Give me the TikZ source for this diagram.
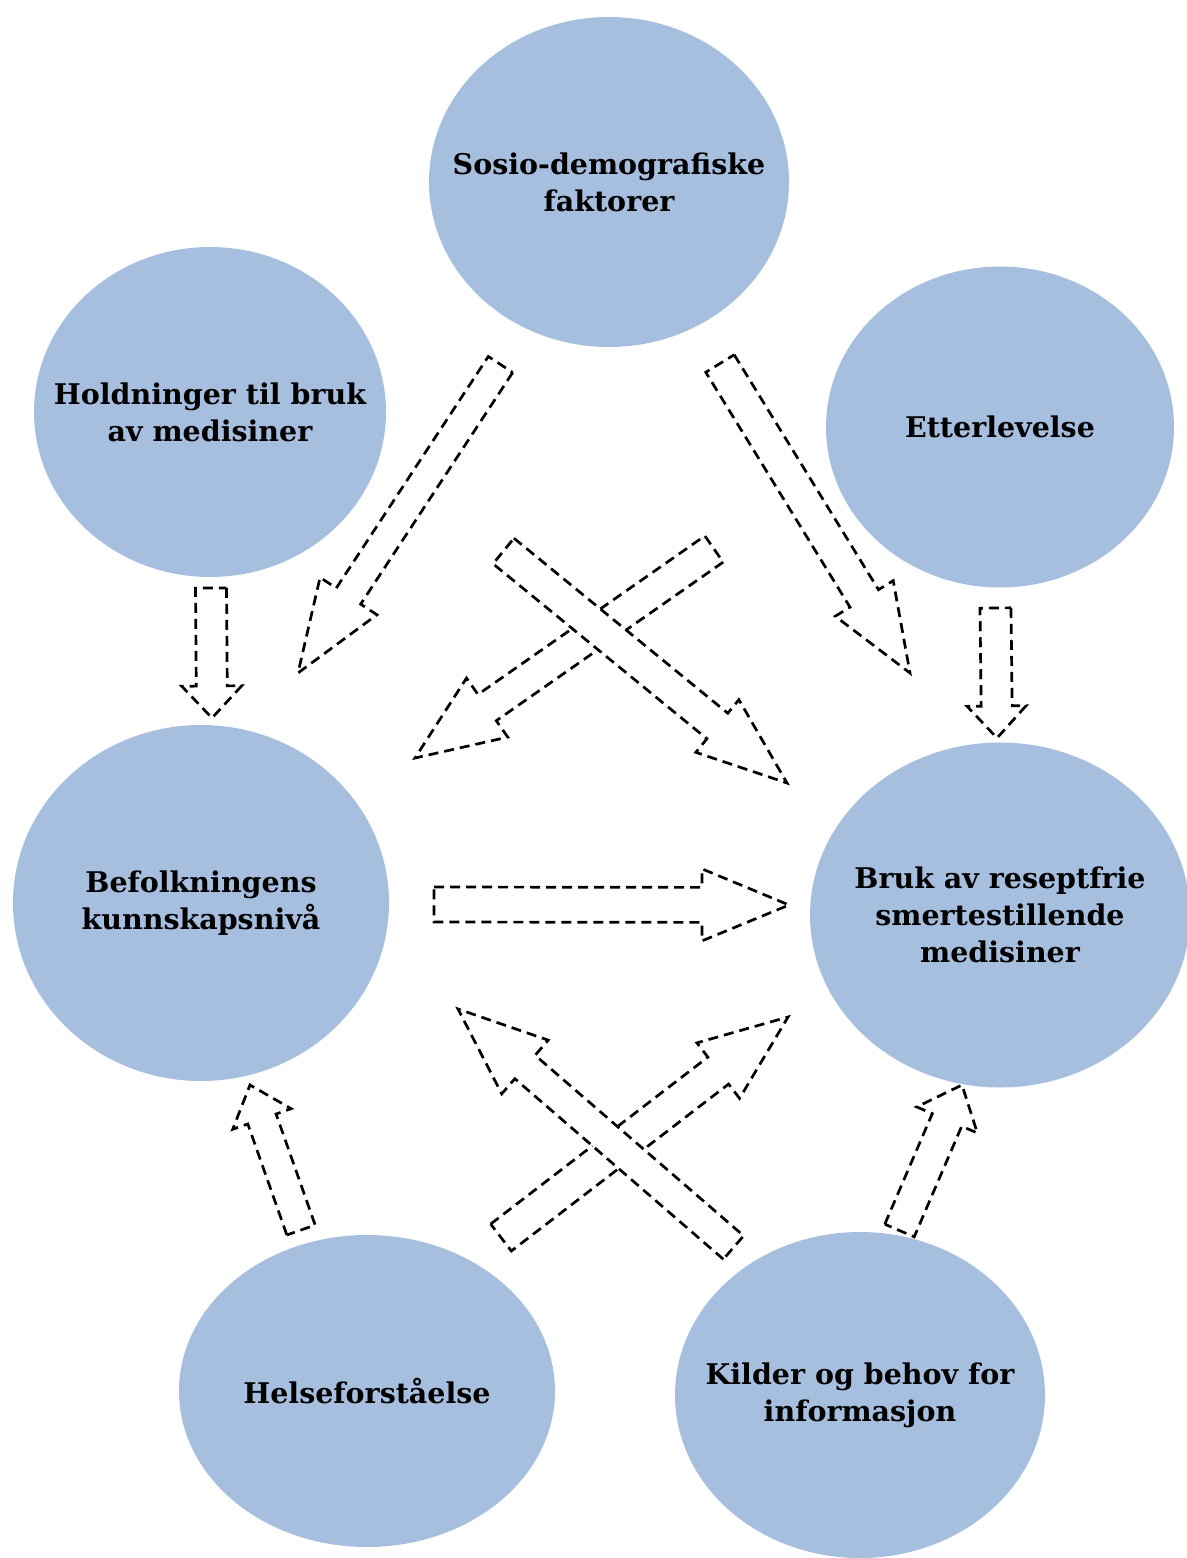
\documentclass[tikz,border=0pt]{standalone}
\usepackage{fontspec}
\setmainfont{DejaVu Serif}
\usetikzlibrary{shapes.geometric, calc}

\definecolor{factorblue}{RGB}{167,191,222}

% block arrow: tail, tip, shaft half width, head half width, head length
\newcommand{\blockarrow}[5]{%
  \coordinate (ba-base) at ($(#2)!#5!(#1)$);
  \draw[hollowarrow] ($(#1)!#3!90:(#2)$) -- ($(ba-base)!#3!90:(#2)$)
    -- ($(ba-base)!#4!90:(#2)$) -- (#2) -- ($(ba-base)!#4!-90:(#2)$)
    -- ($(ba-base)!#3!-90:(#2)$) -- ($(#1)!#3!-90:(#2)$) -- cycle;
}

\begin{document}
\begin{tikzpicture}[
    x=1pt, y=-1pt,
    % Style definitions
    factor/.style={ellipse, fill=factorblue, inner sep=0pt},
    factortext/.style={align=center, inner sep=0pt,
                       font=\fontsize{28.5}{37}\selectfont\bfseries},
    hollowarrow/.style={draw=black, fill=white, line width=2.7pt,
                        dash pattern=on 10pt off 6pt, line join=miter},
]
\useasboundingbox (0,0) rectangle (1186,1558);

% Circles
\node[factor, minimum width=360pt, minimum height=330pt,
      label={[factortext]center:Sosio-demografiske\\faktorer}] (sosio) at (609,182) {};
\node[factor, minimum width=352pt, minimum height=330pt,
      label={[factortext]center:Holdninger til bruk\\av medisiner}] (holdninger) at (210,412) {};
\node[factor, minimum width=348pt, minimum height=321pt,
      label={[factortext]center:Etterlevelse}] (etterlevelse) at (1000,427) {};
\node[factor, minimum width=376pt, minimum height=356pt,
      label={[factortext]center:Befolkningens\\kunnskapsnivå}] (befolkning) at (201,903) {};
\node[factor, minimum width=380pt, minimum height=345pt,
      label={[factortext]center:Bruk av reseptfrie\\smertestillende\\medisiner}] (bruk) at (1000,915) {};
\node[factor, minimum width=376pt, minimum height=312pt,
      label={[factortext]center:Helseforståelse}] (helse) at (367,1391) {};
\node[factor, minimum width=370pt, minimum height=326pt,
      label={[factortext]center:Kilder og behov for\\informasjon}] (kilder) at (860,1395) {};

% Arrow end points
\coordinate (holdn-s) at (211,588);   \coordinate (holdn-e) at (212,718);
\coordinate (etterl-s) at (995.5,608); \coordinate (etterl-e) at (997,738);
\coordinate (befolk-s) at (434,904.5); \coordinate (befolk-e) at (789,905);
\coordinate (sosioL-s) at (500.5,364.5); \coordinate (sosioL-e) at (298,673);
\coordinate (sosioR-s) at (720,363.5); \coordinate (sosioR-e) at (910,673);
\coordinate (crossA-s) at (503.5,551); \coordinate (crossA-e) at (787,783);
\coordinate (crossB-s) at (714,549);   \coordinate (crossB-e) at (415,758);
\coordinate (kilderL-s) at (733.5,1247.5); \coordinate (kilderL-e) at (458,1009);
\coordinate (helseR-s) at (501,1237.5); \coordinate (helseR-e) at (788,1017);
\coordinate (helse-s) at (301,1230);   \coordinate (helse-e) at (250,1085);
\coordinate (kilder-s) at (899.5,1230.5); \coordinate (kilder-e) at (962,1085);

% Arrows
\blockarrow{holdn-s}{holdn-e}{15.5pt}{30pt}{32pt}
\blockarrow{etterl-s}{etterl-e}{15.5pt}{29.5pt}{32pt}
\blockarrow{befolk-s}{befolk-e}{17.5pt}{36pt}{87pt}
\blockarrow{sosioL-s}{sosioL-e}{14.6pt}{34pt}{92pt}
\blockarrow{sosioR-s}{sosioR-e}{16.7pt}{34pt}{87.5pt}
\blockarrow{crossB-s}{crossB-e}{16pt}{36pt}{88pt}
\blockarrow{crossA-s}{crossA-e}{16.5pt}{34pt}{90pt}
\blockarrow{helseR-s}{helseR-e}{17pt}{35pt}{88pt}
\blockarrow{kilderL-s}{kilderL-e}{15.5pt}{35.5pt}{88.6pt}
\blockarrow{helse-s}{helse-e}{15pt}{31pt}{36pt}
\blockarrow{kilder-s}{kilder-e}{16pt}{33pt}{38pt}

\end{tikzpicture}
\end{document}
